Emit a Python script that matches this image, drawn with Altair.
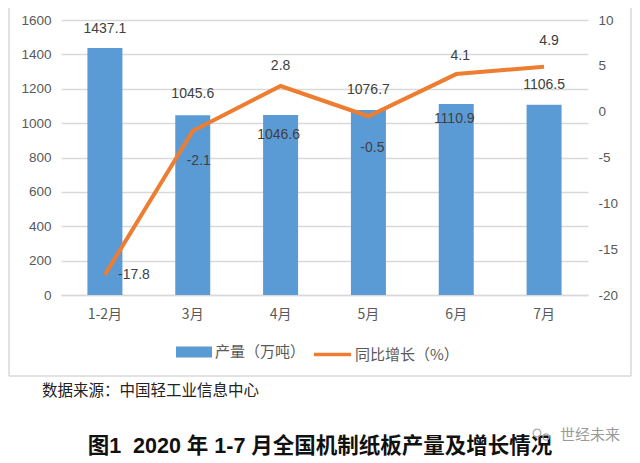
import altair as alt
import pandas as pd

months = ["1-2月", "3月", "4月", "5月", "6月", "7月"]
output = [1437.1, 1045.6, 1046.6, 1076.7, 1110.9, 1106.5]
growth = [-17.8, -2.1, 2.8, -0.5, 4.1, 4.9]
output_name = "产量（万吨）"
growth_name = "同比增长（%）"
source_text = "数据来源：中国轻工业信息中心"
title_text = "图1\u00a0\u00a02020 年 1-7 月全国机制纸板产量及增长情况"
watermark_text = "世经未来"

LATIN = "Liberation Sans"
CJK = "Noto Sans CJK SC"
GREY = "#595959"
GRID = "#d9d9d9"
L, T = 61, 20          # plot origin on the page

df = pd.DataFrame({"month": months, "output": output, "growth": growth,
                   "oname": output_name, "gname": growth_name,
                   "olabel": [f"{v:.1f}" for v in output],
                   "glabel": [f"{v:.1f}" for v in growth]})

x = alt.X("month:N", sort=months, title=None,
          scale=alt.Scale(paddingInner=0.6, paddingOuter=0.3),
          axis=alt.Axis(labelAngle=0, labelFont=CJK, labelFontSize=14, labelColor=GREY,
                        labelPadding=12, ticks=False, domainColor=GRID, domainWidth=1.5, grid=False))

y_left = alt.Y("output:Q", title=None,
               scale=alt.Scale(domain=[0, 1600], nice=False),
               axis=alt.Axis(orient="left", values=list(range(0, 1601, 200)), labelExpr="'' + datum.value",
                             labelFont=LATIN, labelFontSize=13.5, labelColor=GREY, labelPadding=10,
                             ticks=False, domain=False, grid=True, gridColor=GRID, gridWidth=1.5))
y_right = alt.Y("growth:Q", title=None,
                scale=alt.Scale(domain=[-20, 10], nice=False),
                axis=alt.Axis(orient="right", values=list(range(-20, 11, 5)), labelExpr="'' + datum.value",
                              labelFont=LATIN, labelFontSize=13.5, labelColor=GREY, labelPadding=10,
                              ticks=False, domain=False, grid=False))

bars = alt.Chart(df).mark_bar(size=35).encode(
    x=x, y=y_left,
    color=alt.Color("oname:N", title=None,
                    scale=alt.Scale(range=["#5B9BD5"]),
                    legend=alt.Legend(orient="none", legendX=115, legendY=314,
                                      symbolType="M-1,-0.3H1V0.3H-1Z", symbolSize=1296,
                                      symbolStrokeWidth=0, labelFont=CJK, labelFontSize=15,
                                      labelColor=GREY, labelOffset=3)))

line = alt.Chart(df).mark_line(strokeWidth=4, color="#ED7D31").encode(
    x=x, y=y_right,
    stroke=alt.Stroke("gname:N", title=None,
                      scale=alt.Scale(range=["#ED7D31"]),
                      legend=alt.Legend(orient="none", legendX=251, legendY=314,
                                        symbolType="stroke", symbolSize=1369, symbolStrokeWidth=3.5,
                                        labelFont=CJK, labelFontSize=15,
                                        labelColor=GREY, labelOffset=2)))

# label offsets from each data point, in pixels
bar_offsets = [(0, -19), (0, -21), (-2, 20), (0, -20), (-2, 15), (0, -20)]
line_offsets = [(29, 0), (6, 30), (0, -20), (4, 32), (4, -18), (5, -26)]


def labels(col, fmt_y, offsets):
    out = []
    for i, (dx, dy) in enumerate(offsets):
        out.append(
            alt.Chart(df.iloc[[i]]).mark_text(dx=dx, dy=dy, font=LATIN, fontSize=14, color="#404040")
            .encode(x=x, y=fmt_y, text=alt.Text(f"{col}:N"))
        )
    return out


left = alt.layer(bars, *labels("olabel", y_left, bar_offsets))
right = alt.layer(line, *labels("glabel", y_right, line_offsets))


def note(text, px, py, **kw):
    return alt.Chart(pd.DataFrame({"t": [text]})).mark_text(**kw).encode(
        x=alt.value(px - L), y=alt.value(py - T), text="t:N")


def rule(x1, y1, x2, y2):
    return alt.Chart(pd.DataFrame({"a": [0]})).mark_rule(color="#d9d9d9", strokeWidth=1.5).encode(
        x=alt.value(x1 - L), x2=alt.value(x2 - L), y=alt.value(y1 - T), y2=alt.value(y2 - T))


def icon(px, py, size):
    return alt.Chart(pd.DataFrame({"a": [0]})).mark_point(color="#a8a8a8", strokeWidth=1.2, size=size, opacity=1).encode(
        x=alt.value(px - L), y=alt.value(py - T))


chart = alt.layer(
    rule(9, 0, 9, 376), rule(9, 376, 631, 376), rule(631, 0, 631, 376),
    left, right,
    note(source_text, 42, 391, font=CJK, fontSize=15.5, color="#222222", align="left"),
    note(title_text, 320, 447, font=f"{LATIN}, {CJK}", fontSize=21.5, fontWeight="bold", color="#111111", align="center"),
    icon(537, 433, 60), icon(546, 437, 40),
    note(watermark_text, 590, 435, font=CJK, fontSize=15, color="#9a9a9a", align="center"),
).resolve_scale(y="independent", color="independent", stroke="independent").properties(
    width=527, height=275,
    autosize=alt.AutoSizeParams(type="none"),
    padding={"left": 53, "top": 12, "right": 44, "bottom": 167},
).configure_view(stroke=None)

chart.save("out.html", embed_options={"renderer": "svg", "actions": False})
